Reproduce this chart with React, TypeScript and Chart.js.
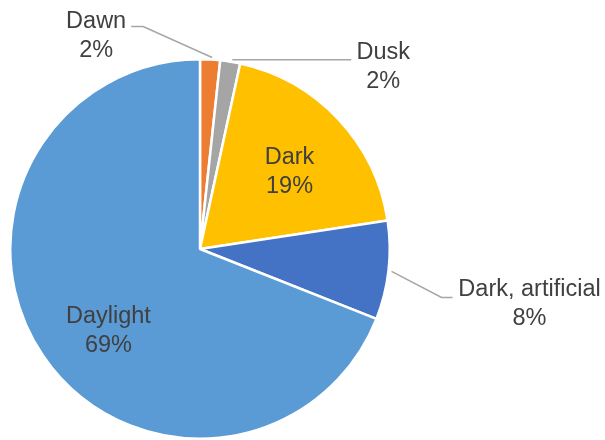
import React, { useEffect, useRef } from "react";
import { Chart, registerables } from "chart.js";

Chart.register(...registerables);

const categories = ["Dawn", "Dusk", "Dark", "Dark, artificial", "Daylight"];
const shares = [1.7, 1.7, 19.2, 8.4, 69.0];
const percentLabels = ["2%", "2%", "19%", "8%", "69%"];
const sliceColors = ["#ED7D31", "#A5A5A5", "#FFC000", "#4472C4", "#5B9BD5"];

// label layout: offsets relative to the slice's outer-edge point at its mid angle
type LabelLayout = {
  inside: boolean;
  radiusFactor?: number;
  angleShift?: number;
  leader?: [number, number][];
  text?: [number, number];
};
const labelLayout: LabelLayout[] = [
  { inside: false, leader: [[2, -2], [-67, -33], [-79, -33]], text: [-114, -32] },
  { inside: false, leader: [[2, -2], [121, -2]], text: [153, -3] },
  { inside: true, radiusFactor: 0.63, angleShift: 0.03, text: [0, 0] },
  { inside: false, leader: [[3, 1], [53, 27], [64, 27]], text: [141, 26] },
  { inside: true, radiusFactor: 0.64, angleShift: -0.12, text: [0, 0] },
];

const FONT = "23.5px 'Liberation Sans', Arial, sans-serif";
const LINE_H = 29;

const labelPlugin = {
  id: "pieLabels",
  afterDatasetsDraw(chart: any) {
    const ctx = chart.ctx;
    const meta = chart.getDatasetMeta(0);
    ctx.save();
    ctx.font = FONT;
    ctx.fillStyle = "#404040";
    ctx.textAlign = "center";
    ctx.textBaseline = "alphabetic";
    meta.data.forEach((arc: any, i: number) => {
      const { x, y, startAngle, endAngle, outerRadius } = arc.getProps(
        ["x", "y", "startAngle", "endAngle", "outerRadius"],
        true
      );
      const lay = labelLayout[i];
      const mid = (startAngle + endAngle) / 2;
      if (lay.inside) {
        const a = mid + (lay.angleShift || 0);
        const r = outerRadius * (lay.radiusFactor || 0.6);
        const cx = x + Math.cos(a) * r;
        const cy = y + Math.sin(a) * r;
        ctx.fillText(categories[i], cx, cy - 6);
        ctx.fillText(percentLabels[i], cx, cy - 6 + LINE_H);
      } else {
        const ax = x + Math.cos(mid) * outerRadius;
        const ay = y + Math.sin(mid) * outerRadius;
        if (lay.leader) {
          ctx.beginPath();
          ctx.strokeStyle = "#A6A6A6";
          ctx.lineWidth = 1.5;
          lay.leader.forEach((p, k) => {
            if (k === 0) ctx.moveTo(ax + p[0], ay + p[1]);
            else ctx.lineTo(ax + p[0], ay + p[1]);
          });
          ctx.stroke();
        }
        const t = lay.text || [0, 0];
        ctx.fillText(categories[i], ax + t[0], ay + t[1]);
        ctx.fillText(percentLabels[i], ax + t[0], ay + t[1] + LINE_H);
      }
    });
    ctx.restore();
  },
};

export default function App() {
  const canvasRef = useRef<HTMLCanvasElement | null>(null);
  useEffect(() => {
    if (!canvasRef.current) return;
    const chart = new Chart(canvasRef.current, {
      type: "pie",
      data: {
        labels: categories,
        datasets: [
          {
            data: shares,
            backgroundColor: sliceColors,
            borderColor: "#FFFFFF",
            borderWidth: 2.5,
          },
        ],
      },
      options: {
        responsive: false,
        animation: false,
        layout: { padding: { left: 8, right: 213, top: 58, bottom: -2 } },
        plugins: {
          legend: { display: false },
          tooltip: { enabled: false },
        },
      },
      plugins: [labelPlugin],
    });
    return () => chart.destroy();
  }, []);
  return (
    <div style={{ position: "absolute", left: 0, top: 0, width: 605, height: 440, background: "#fff" }}>
      <canvas ref={canvasRef} width={605} height={440} />
    </div>
  );
}
